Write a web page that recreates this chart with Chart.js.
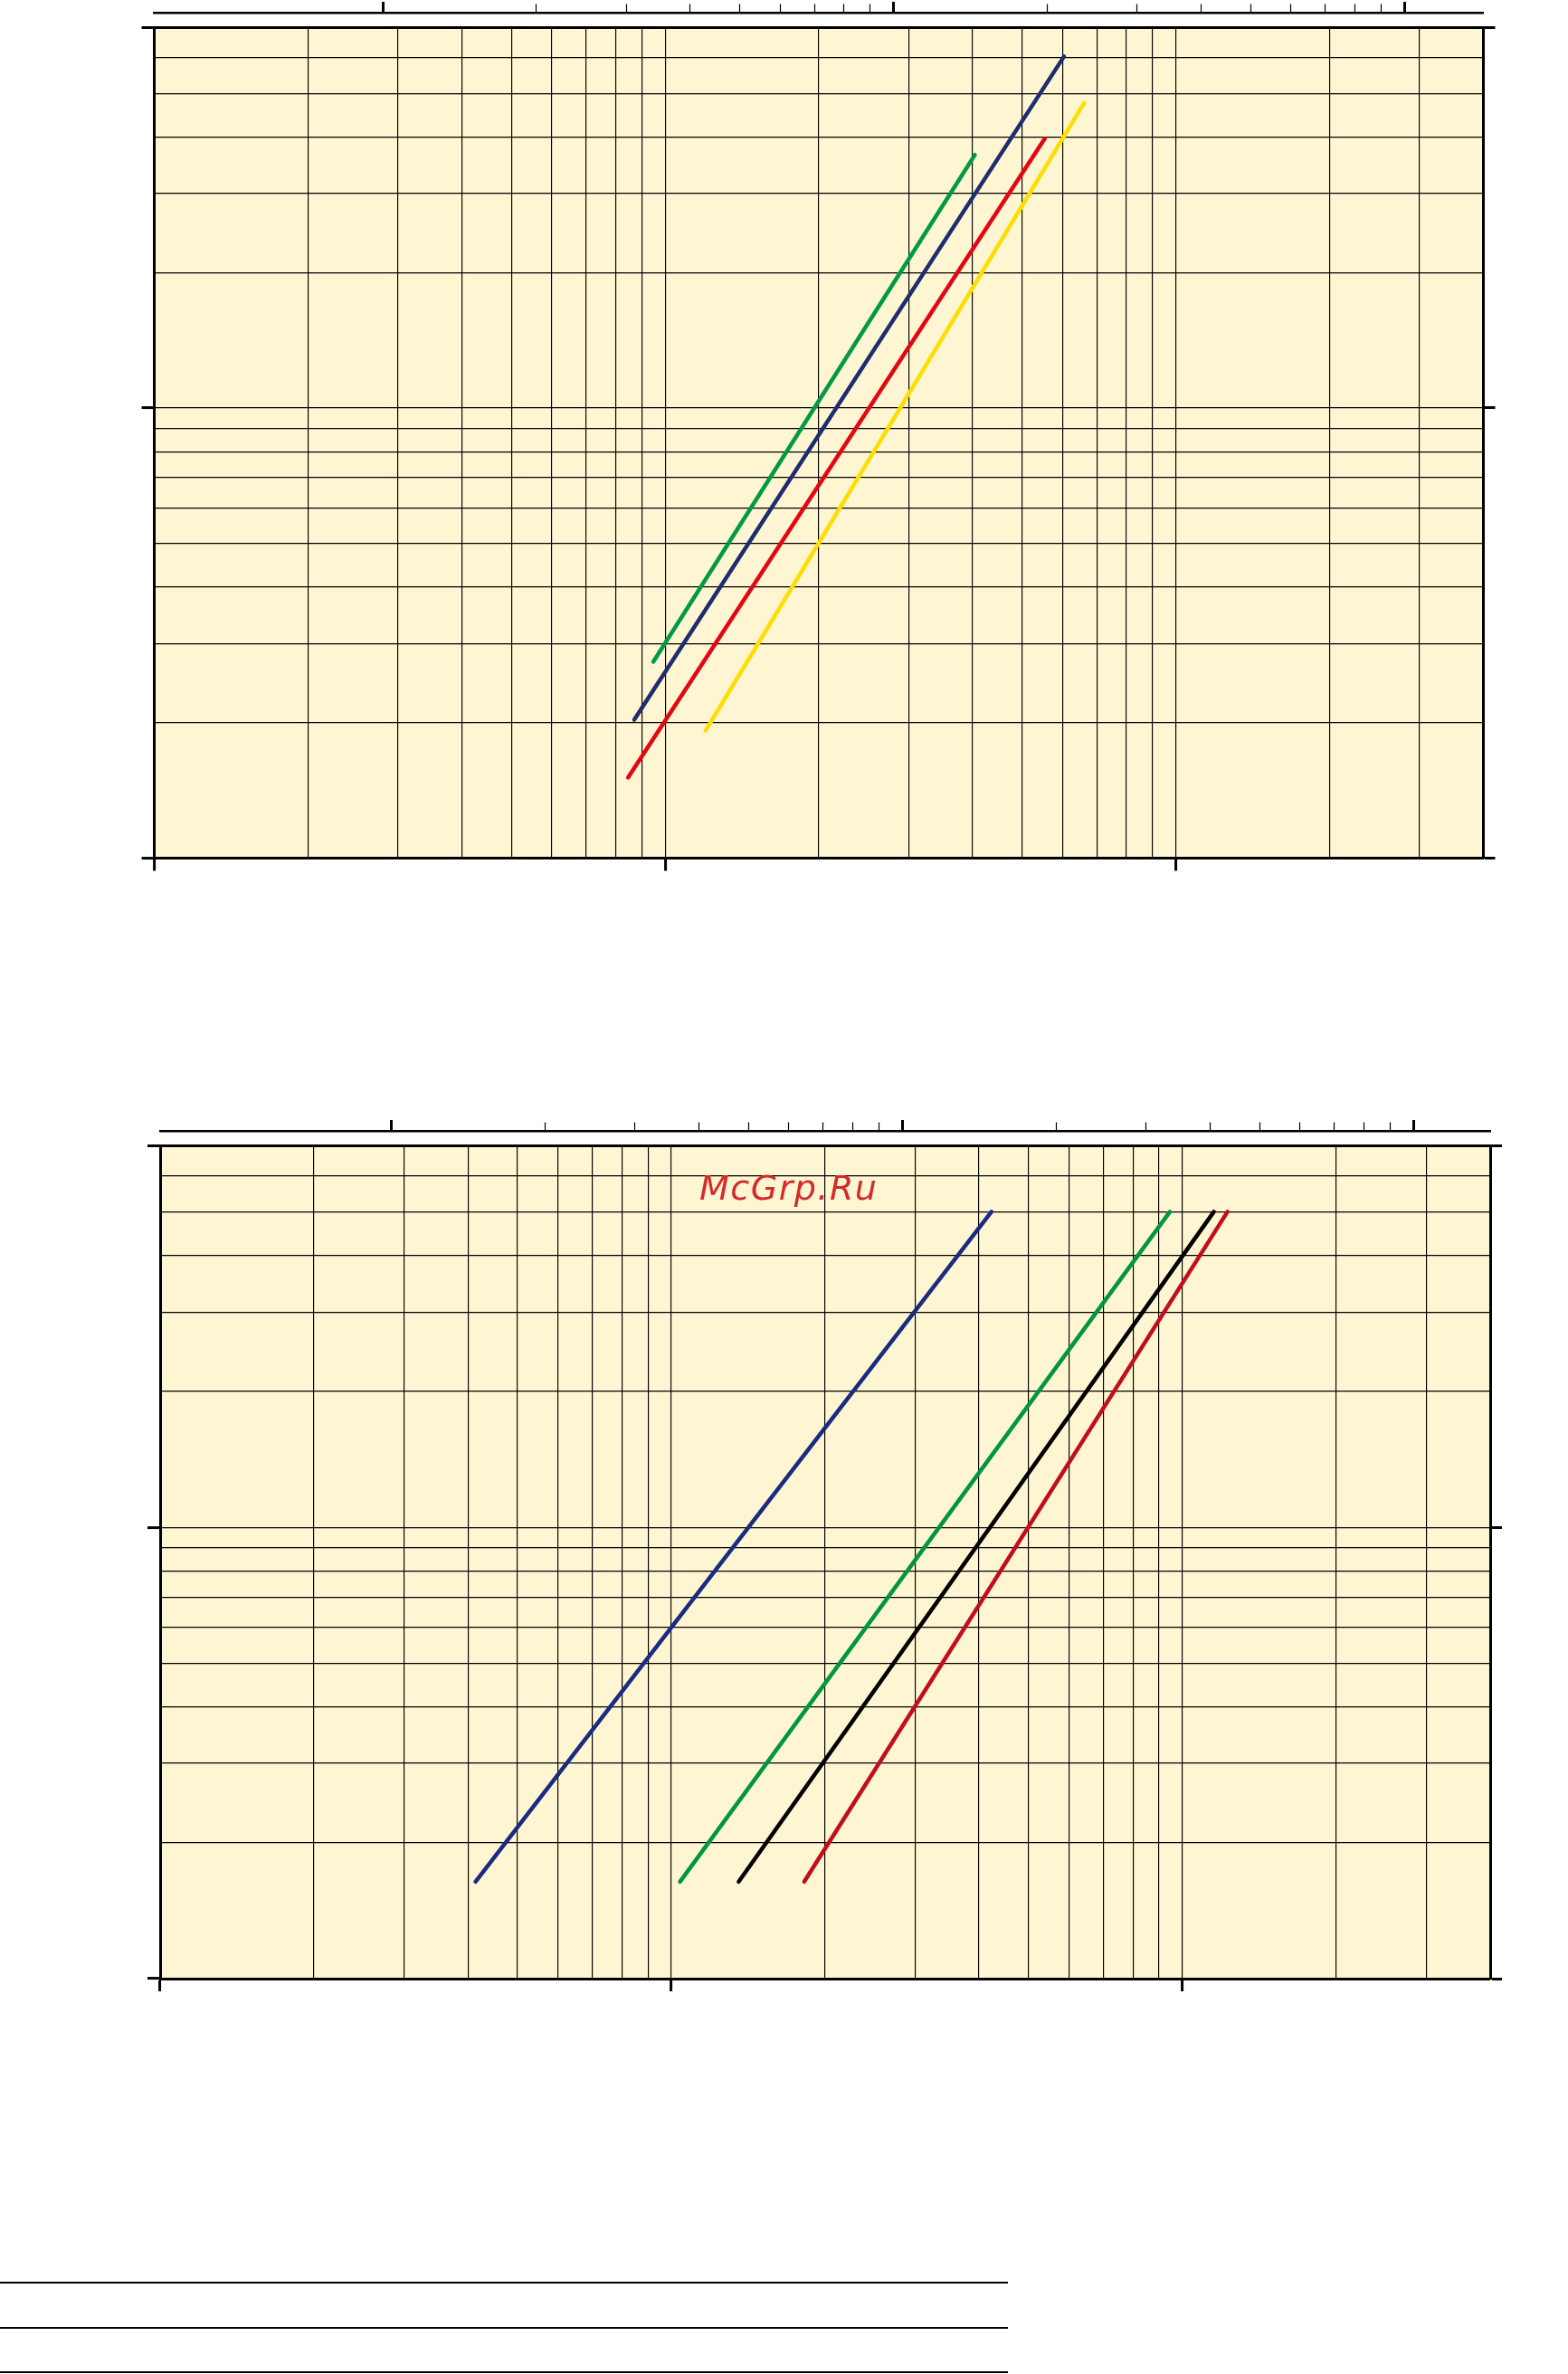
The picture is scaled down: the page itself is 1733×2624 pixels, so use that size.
<!DOCTYPE html>
<html>
<head>
<meta charset="utf-8">
<script src="https://cdn.jsdelivr.net/npm/chart.js@4.4.1/dist/chart.umd.min.js"></script>
<style>
  html, body { margin: 0; padding: 0; background: #ffffff; }
  body { width: 1733px; height: 2624px; position: relative; overflow: hidden; }
  .chartbox { position: absolute; left: 0; width: 1733px; height: 980px; }
  .watermark { position: absolute; left: 773px; top: 1294px; font-family: "DejaVu Sans", sans-serif; font-style: italic; font-size: 38px; line-height: 38px; letter-spacing: 1.5px; color: #d42a2a; white-space: nowrap; }
  .rule { position: absolute; left: 0; width: 1114px; height: 2px; background: #000; }
</style>
</head>
<body>
<div class="chartbox" style="top:0px"><canvas id="c1" width="1733" height="980"></canvas></div>
<div class="chartbox" style="top:1236px"><canvas id="c2" width="1733" height="980"></canvas></div>
<div class="watermark">McGrp.Ru</div>
<div class="rule" style="top:2522px"></div>
<div class="rule" style="top:2572px"></div>
<div class="rule" style="top:2621px"></div>
<script>
// ---- axes / grid values ----
const xMin = 1, xMax = 400;
const yMin = 1, yMax = 70;
const topAxisFactor1 = 2.8;              // top scale = bottom scale / factor
const topAxisFactor2 = 2.83;
const xGridValues = [1,2,3,4,5,6,7,8,9,10,20,30,40,50,60,70,80,90,100,200,300,400];
const xMajorTicks = [1,10,100];
const yGridValues = [1,2,3,4,5,6,7,8,9,10,20,30,40,50,60,70];
const yMajorTicks = [1,10,70];
const topAxisMinorTicks = [2,3,4,5,6,7,8,9,20,30,40,50,60,70,80,90];
const topAxisMajorTicks = [1,10,100];

// ---- chart 1 series ----
const c1GreenX  = [9.48, 40.4],  c1GreenY  = [2.73, 36.5];
const c1NavyX   = [8.70, 60.4],  c1NavyY   = [2.03, 60.4];
const c1RedX    = [8.46, 55.4],  c1RedY    = [1.51, 39.7];
const c1YellowX = [12.0, 66.1],  c1YellowY = [1.92, 47.6];

// ---- chart 2 series ----
const c2NavyX    = [4.14, 42.3],  c2NavyY    = [1.64, 50];
const c2GreenX   = [10.4, 94.5],  c2GreenY   = [1.64, 50];
const c2BlackX   = [13.55, 115.2], c2BlackY  = [1.64, 50];
const c2DarkRedX = [18.2, 122.5], c2DarkRedY = [1.64, 50];

function pts(xs, ys) { return xs.map((x, i) => ({ x: x, y: ys[i] })); }
function ds(xs, ys, color) {
  return { data: pts(xs, ys), borderColor: color, backgroundColor: color, borderWidth: 4.5,
           borderCapStyle: 'round', pointRadius: 0, fill: false, tension: 0,
           xAxisID: 'x', yAxisID: 'y' };
}

const bgPlugin = {
  id: 'plotBg',
  beforeDraw(chart) {
    const a = chart.chartArea, ctx = chart.ctx;
    ctx.save();
    ctx.fillStyle = '#fef5d2';
    ctx.fillRect(a.left, a.top, a.right - a.left, a.bottom - a.top);
    ctx.restore();
  }
};

function setTicks(values) { return (s) => { s.ticks = values.map(v => ({ value: v })); }; }
function tv(ctx) { return ctx.tick ? ctx.tick.value : null; }

function makeChart(id, datasets, pad, topFactor) {
  return new Chart(document.getElementById(id), {
    type: 'line',
    data: { datasets: datasets },
    plugins: [bgPlugin],
    options: {
      responsive: false, animation: false, devicePixelRatio: 1,
      layout: { padding: pad },
      plugins: { legend: { display: false }, tooltip: { enabled: false }, title: { display: false } },
      scales: {
        x: {
          type: 'logarithmic', position: 'bottom', min: xMin, max: xMax,
          afterBuildTicks: setTicks(xGridValues),
          afterFit: (s) => { s.height = 14; },
          ticks: { display: false, autoSkip: false },
          grid: { color: '#000', lineWidth: (c) => tv(c) === xMax ? 3 : 1.15,
                  tickLength: 14, tickWidth: 3,
                  tickColor: (c) => xMajorTicks.includes(tv(c)) ? '#000' : 'rgba(0,0,0,0)' },
          border: { display: true, color: '#000', width: 3 }
        },
        xGap: {
          type: 'logarithmic', position: 'top', weight: 0, min: xMin, max: xMax,
          afterFit: (s) => { s.height = 16; },
          ticks: { display: false }, grid: { display: false }, border: { display: false }
        },
        xTopMinor: {
          type: 'logarithmic', position: 'top', weight: 1,
          min: xMin / topFactor, max: xMax / topFactor,
          afterBuildTicks: setTicks(topAxisMinorTicks),
          afterFit: (s) => { s.height = 0; },
          ticks: { display: false, autoSkip: false },
          grid: { drawOnChartArea: false, tickLength: 10, tickWidth: 1.2, tickColor: '#000' },
          border: { display: false }
        },
        xTopMajor: {
          type: 'logarithmic', position: 'top', weight: 2,
          min: xMin / topFactor, max: xMax / topFactor,
          afterBuildTicks: setTicks(topAxisMajorTicks),
          afterFit: (s) => { s.height = 12.5; },
          ticks: { display: false, autoSkip: false },
          grid: { drawOnChartArea: false, tickLength: 12.5, tickWidth: 3, tickColor: '#000' },
          border: { display: true, color: '#000', width: 2.5 }
        },
        y: {
          type: 'logarithmic', position: 'left', min: yMin, max: yMax,
          afterBuildTicks: setTicks(yGridValues),
          afterFit: (s) => { s.width = 14; },
          ticks: { display: false, autoSkip: false },
          grid: { color: '#000', lineWidth: (c) => tv(c) === yMax ? 3 : 1.15,
                  tickLength: 14, tickWidth: 3,
                  tickColor: (c) => yMajorTicks.includes(tv(c)) ? '#000' : 'rgba(0,0,0,0)' },
          border: { display: true, color: '#000', width: 3 }
        },
        y2: {
          type: 'logarithmic', position: 'right', min: yMin, max: yMax,
          afterBuildTicks: setTicks(yMajorTicks),
          afterFit: (s) => { s.width = 13; },
          ticks: { display: false, autoSkip: false },
          grid: { drawOnChartArea: false, tickLength: 13, tickWidth: 3, tickColor: '#000' },
          border: { display: true, color: '#000', width: 3 }
        }
      }
    }
  });
}

makeChart('c1', [
  ds(c1GreenX, c1GreenY, '#009a44'),
  ds(c1NavyX, c1NavyY, '#1e2d6e'),
  ds(c1RedX, c1RedY, '#e30613'),
  ds(c1YellowX, c1YellowY, '#ffdd00')
], { top: 2, left: 156.6, right: 80.5, bottom: 17.5 }, topAxisFactor1);

makeChart('c2', [
  ds(c2NavyX, c2NavyY, '#1a2b80'),
  ds(c2GreenX, c2GreenY, '#009640'),
  ds(c2BlackX, c2BlackY, '#000000'),
  ds(c2DarkRedX, c2DarkRedY, '#c20e1c')
], { top: 2, left: 163, right: 73, bottom: 15 }, topAxisFactor2);
</script>
</body>
</html>
